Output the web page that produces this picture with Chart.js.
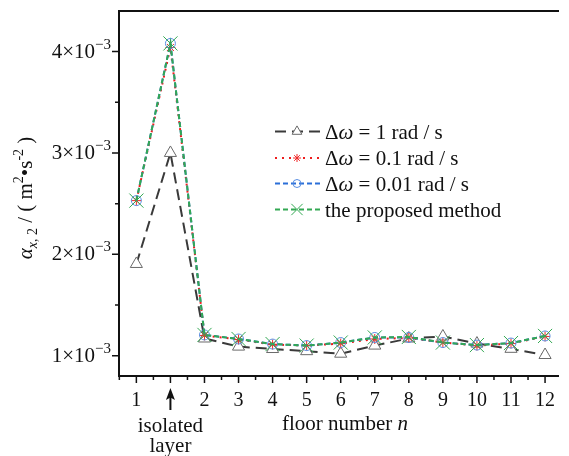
<!DOCTYPE html>
<html>
<head>
<meta charset="utf-8">
<script src="https://cdn.jsdelivr.net/npm/chart.js@4.4.1/dist/chart.umd.min.js"></script>
<style>
  html, body { margin: 0; padding: 0; background: #fff; }
  #wrap { width: 569px; height: 456px; position: relative; }
</style>
</head>
<body>
<div id="wrap"><canvas id="chart"></canvas></div>
<script>
// floor positions on the x axis (position 2 is the isolated layer)
const floorPos = [1, 2, 3, 4, 5, 6, 7, 8, 9, 10, 11, 12, 13];
const floorLabels = ['1', '', '2', '3', '4', '5', '6', '7', '8', '9', '10', '11', '12'];
const isolatedLines = ['isolated', 'layer'];

// alpha_x,2 values, m^2/s^2
const dw1      = [1.905e-3, 3.00e-3, 1.17e-3, 1.09e-3, 1.066e-3, 1.045e-3, 1.02e-3, 1.10e-3, 1.17e-3, 1.19e-3, 1.12e-3, 1.068e-3, 1.007e-3];
const dw01     = [2.53e-3, 4.04e-3, 1.20e-3, 1.16e-3, 1.11e-3, 1.10e-3, 1.12e-3, 1.165e-3, 1.175e-3, 1.13e-3, 1.10e-3, 1.12e-3, 1.19e-3];
const dw001    = [2.53e-3, 4.08e-3, 1.205e-3, 1.165e-3, 1.115e-3, 1.10e-3, 1.13e-3, 1.18e-3, 1.18e-3, 1.13e-3, 1.105e-3, 1.125e-3, 1.195e-3];
const proposed = [2.53e-3, 4.08e-3, 1.205e-3, 1.165e-3, 1.115e-3, 1.10e-3, 1.13e-3, 1.18e-3, 1.185e-3, 1.13e-3, 1.105e-3, 1.125e-3, 1.195e-3];

const yTicks = [1e-3, 2e-3, 3e-3, 4e-3];
const yTickMantissa = ['1', '2', '3', '4'];
const yMinor = [1.5e-3, 2.5e-3, 3.5e-3];

const SERIF = '"Liberation Serif", "Times New Roman", serif';

function pts(vals) {
  return vals.map((v, i) => ({ x: floorPos[i], y: v }));
}

function fontOf(p) {
  return (p.it ? 'italic ' : '') + (p.size || 21) + 'px ' + SERIF;
}

// draw a run of text pieces (italic / sub / sup) on one baseline
function richText(ctx, parts, x, y, align) {
  let w = 0;
  parts.forEach(p => { ctx.font = fontOf(p); p.w = ctx.measureText(p.t).width; w += p.w; });
  let cx = align === 'center' ? x - w / 2 : align === 'right' ? x - w : x;
  parts.forEach(p => {
    ctx.font = fontOf(p);
    ctx.fillText(p.t, cx, y + (p.dy || 0));
    cx += p.w;
  });
}

const legendTexts = [
  [{ t: 'Δ' }, { t: 'ω', it: true }, { t: ' = 1 rad / s' }],
  [{ t: 'Δ' }, { t: 'ω', it: true }, { t: ' = 0.1 rad / s' }],
  [{ t: 'Δ' }, { t: 'ω', it: true }, { t: ' = 0.01 rad / s' }],
  [{ t: 'the proposed method' }]
];

const axesPlugin = {
  id: 'axesPlugin',
  beforeDatasetsDraw(chart) {
    const { ctx, chartArea: a, scales: { x, y } } = chart;
    ctx.save();
    ctx.strokeStyle = '#111';
    ctx.lineWidth = 2;
    ctx.beginPath();
    ctx.moveTo(a.right + 1, a.top);
    ctx.lineTo(a.left, a.top);
    ctx.lineTo(a.left, a.bottom);
    ctx.lineTo(a.right + 1, a.bottom);
    ctx.stroke();

    ctx.lineWidth = 1.5;
    ctx.beginPath();
    yTicks.forEach(v => { const py = y.getPixelForValue(v); ctx.moveTo(a.left, py); ctx.lineTo(a.left - 7, py); });
    yMinor.forEach(v => { const py = y.getPixelForValue(v); ctx.moveTo(a.left, py); ctx.lineTo(a.left - 4, py); });
    floorPos.forEach(v => { const px = x.getPixelForValue(v); ctx.moveTo(px, a.bottom); ctx.lineTo(px, a.bottom + 7); });
    for (let v = 0.5; v <= 13.5; v += 1) {
      const px = x.getPixelForValue(v);
      if (px < a.left - 1 || px > a.right) continue;
      ctx.moveTo(px, a.bottom); ctx.lineTo(px, a.bottom + 4);
    }
    ctx.stroke();
    ctx.restore();
  },
  afterDraw(chart) {
    const { ctx, chartArea: a, scales: { x, y } } = chart;
    ctx.save();
    ctx.fillStyle = '#111';
    ctx.textBaseline = 'alphabetic';

    // y tick labels  n×10^-3
    yTicks.forEach((v, i) => {
      const py = y.getPixelForValue(v);
      richText(ctx, [
        { t: yTickMantissa[i] + '×10', size: 21 },
        { t: '−3', size: 15, dy: -9 }
      ], 111, py + 6, 'right');
    });

    // x tick labels
    floorLabels.forEach((lab, i) => {
      if (!lab) return;
      richText(ctx, [{ t: lab, size: 20 }], x.getPixelForValue(floorPos[i]), 406, 'center');
    });

    // arrow + "isolated layer"
    const ax = x.getPixelForValue(floorPos[1]);
    ctx.strokeStyle = '#111';
    ctx.lineWidth = 2;
    ctx.beginPath();
    ctx.moveTo(ax, 396); ctx.lineTo(ax, 410);
    ctx.stroke();
    ctx.beginPath();
    ctx.moveTo(ax, 388); ctx.lineTo(ax + 4.5, 400); ctx.lineTo(ax, 397.5); ctx.lineTo(ax - 4.5, 400);
    ctx.closePath();
    ctx.fill();
    richText(ctx, [{ t: isolatedLines[0] }], ax, 432, 'center');
    richText(ctx, [{ t: isolatedLines[1] }], ax, 452, 'center');

    // x title
    richText(ctx, [{ t: 'floor number ' }, { t: 'n', it: true }], 345, 430, 'center');

    // y title (rotated)
    ctx.save();
    ctx.translate(32, 198);
    ctx.rotate(-Math.PI / 2);
    richText(ctx, [
      { t: 'α', it: true },
      { t: 'x', it: true, size: 14, dy: 5 },
      { t: ', 2', size: 14, dy: 5 },
      { t: ' / ( m' },
      { t: '2', size: 14, dy: -9 },
      { t: '•s' },
      { t: '-2', size: 14, dy: -9 },
      { t: ' )' }
    ], 0, 0, 'center');
    ctx.restore();

    // legend
    const rowY = [131.5, 158, 183.5, 209.5];
    chart.data.datasets.forEach((ds, i) => {
      const ry = rowY[i];
      ctx.save();
      ctx.strokeStyle = ds.borderColor;
      ctx.lineWidth = ds.borderWidth;
      ctx.setLineDash(ds.borderDash);
      ctx.beginPath();
      ctx.moveTo(275, ry); ctx.lineTo(321, ry);
      ctx.stroke();
      ctx.setLineDash([]);
      ctx.strokeStyle = ds.pointBorderColor;
      ctx.fillStyle = ds.pointBackgroundColor;
      ctx.lineWidth = ds.pointBorderWidth;
      Chart.helpers.drawPoint(ctx, {
        pointStyle: ds.pointStyle,
        radius: ds.pointRadius * 0.8,
        rotation: 0,
        borderWidth: ds.pointBorderWidth
      }, 297, ry);
      ctx.restore();
      richText(ctx, legendTexts[i], 325, ry + 7, 'left');
    });
    ctx.restore();
  }
};

new Chart(document.getElementById('chart'), {
  type: 'line',
  data: {
    datasets: [
      {
        label: 'Δω = 1 rad / s', data: pts(dw1),
        borderColor: '#3a3a3a', borderWidth: 2, borderDash: [11, 6],
        pointStyle: 'triangle', pointRadius: 7, pointBorderWidth: 1,
        pointBorderColor: '#6a6a6a', pointBackgroundColor: '#ffffff', order: 4
      },
      {
        label: 'Δω = 0.1 rad / s', data: pts(dw01),
        borderColor: '#ee1d1d', borderWidth: 2, borderDash: [2, 5],
        pointStyle: 'star', pointRadius: 5, pointBorderWidth: 1,
        pointBorderColor: '#f02a2a', pointBackgroundColor: 'rgba(0,0,0,0)', order: 3
      },
      {
        label: 'Δω = 0.01 rad / s', data: pts(dw001),
        borderColor: '#2b6fd8', borderWidth: 2, borderDash: [5, 3],
        pointStyle: 'circle', pointRadius: 5, pointBorderWidth: 1,
        pointBorderColor: '#5a8fe2', pointBackgroundColor: 'rgba(0,0,0,0)', order: 2
      },
      {
        label: 'the proposed method', data: pts(proposed),
        borderColor: '#33a853', borderWidth: 2, borderDash: [5, 3],
        pointStyle: 'crossRot', pointRadius: 10, pointBorderWidth: 1,
        pointBorderColor: '#33a853', pointBackgroundColor: 'rgba(0,0,0,0)', order: 1
      }
    ]
  },
  options: {
    responsive: true,
    maintainAspectRatio: false,
    animation: false,
    events: [],
    layout: { padding: { left: 119, top: 11, right: 0, bottom: 80 } },
    plugins: { legend: { display: false }, tooltip: { enabled: false } },
    scales: {
      x: { type: 'linear', display: false, min: 0.49, max: 13.38 },
      y: { type: 'linear', display: false, min: 0.8e-3, max: 4.4e-3 }
    }
  },
  plugins: [axesPlugin]
});
</script>
</body>
</html>
